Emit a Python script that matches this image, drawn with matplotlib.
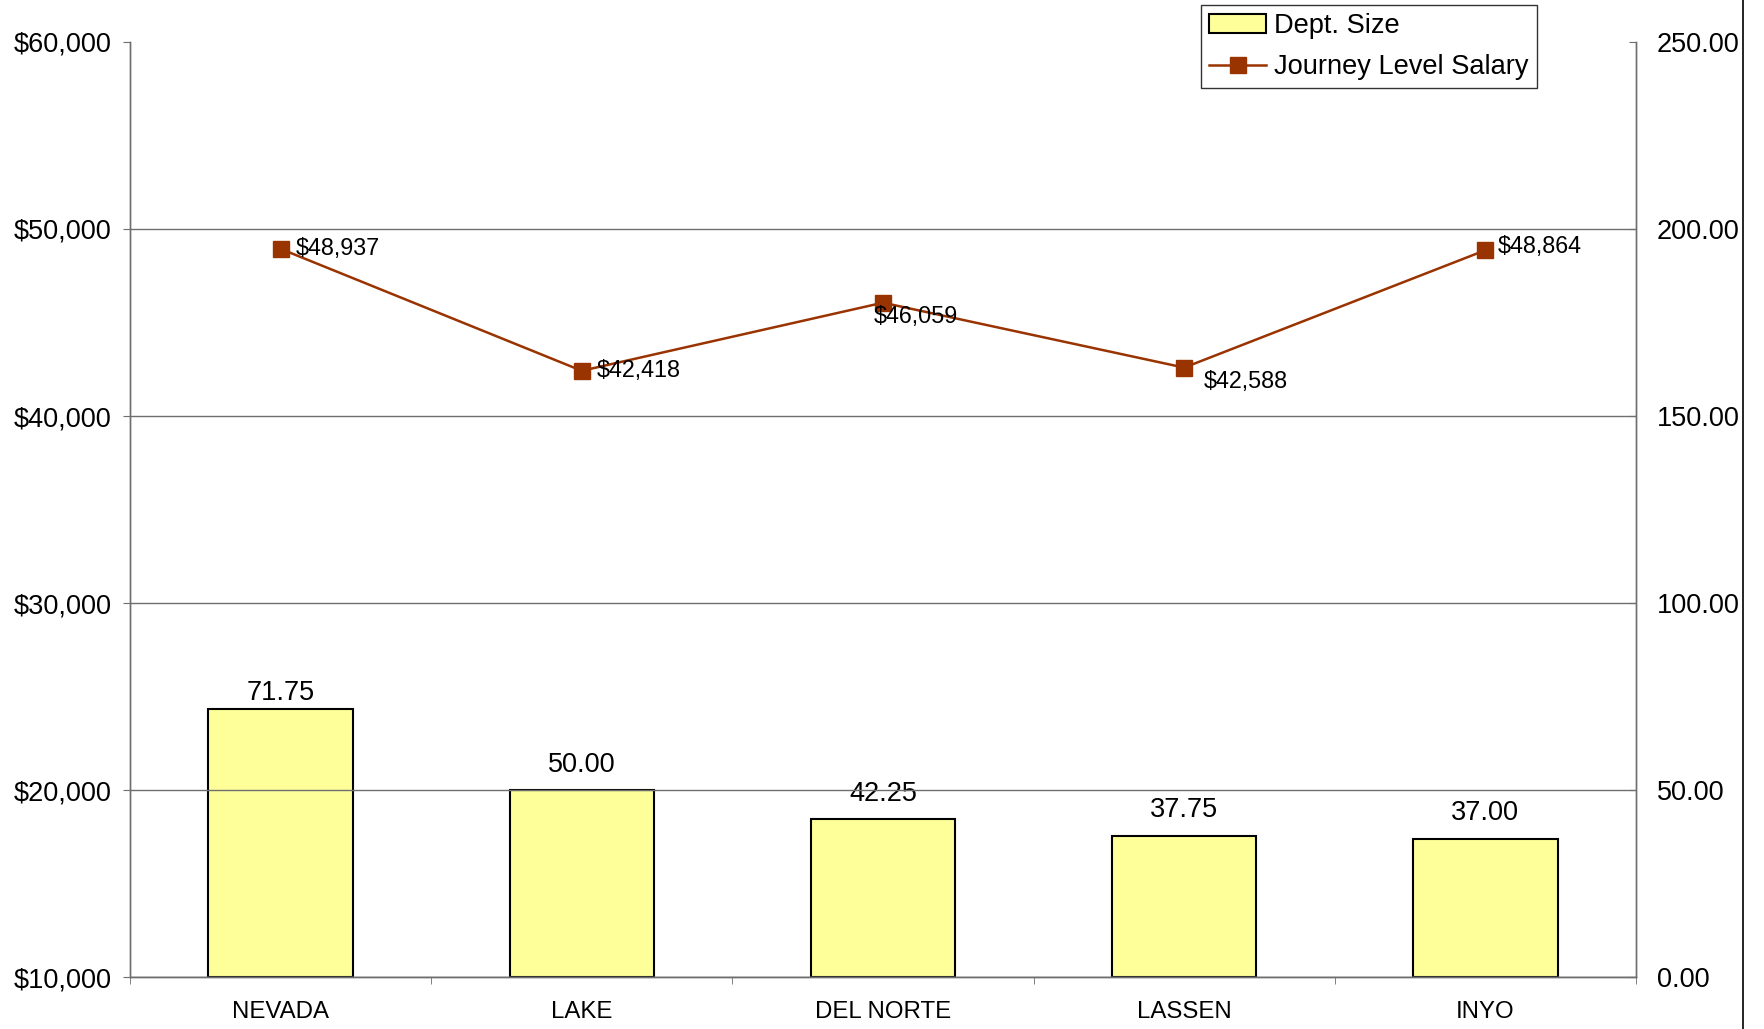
# Dept. size (bars) vs journey level salary (line), two y axes
import matplotlib.pyplot as plt
from matplotlib.lines import Line2D
from matplotlib.ticker import FuncFormatter

plt.rcParams['font.family'] = ['Liberation Sans', 'DejaVu Sans']

counties = ["NEVADA", "LAKE", "DEL NORTE", "LASSEN", "INYO"]
dept_size = [71.75, 50.00, 42.25, 37.75, 37.00]
salary = [48937, 42418, 46059, 42588, 48864]
# label offsets (points) for the salary and bar labels
salary_offsets = [(11, 0), (11, 0), (-7, -10), (14, -10), (9, 3)]
bar_offsets = [2, 9, 9, 9, 9]

left_ticks = [10000, 20000, 30000, 40000, 50000, 60000]
right_ticks = [0, 50, 100, 150, 200, 250]

line_color = "#993300"
bar_color = "#FFFF99"
axis_gray = "#6e6e6e"

fig = plt.figure(figsize=(17.64, 10.29), dpi=100)
ax = fig.add_axes([0.0737, 0.0505, 0.8537, 0.9087])
ax2 = ax.twinx()

x = list(range(len(counties)))

# bars belong to the right axis, line to the left; keep line on top
ax.set_zorder(2)
ax.patch.set_visible(False)
ax2.set_zorder(1)

bars = ax2.bar(x, dept_size, width=0.48, color=bar_color, edgecolor="black",
               linewidth=1.5, label="Dept. Size")
for xi, v, off in zip(x, dept_size, bar_offsets):
    ax2.annotate(f"{v:.2f}", (xi, v), xytext=(0, off), textcoords="offset points",
                 ha="center", va="bottom", fontsize=19.5)

line, = ax.plot(x, salary, color=line_color, linewidth=1.8, marker="s",
                markersize=11, label="Journey Level Salary")
for xi, v, off in zip(x, salary, salary_offsets):
    ax.annotate(f"${v:,}", (xi, v), xytext=off, textcoords="offset points",
                ha="left", va="center", fontsize=16.8)

ax.set_xlim(-0.5, len(counties) - 0.5)
ax.set_ylim(left_ticks[0], left_ticks[-1])
ax2.set_ylim(right_ticks[0], right_ticks[-1])

ax.set_yticks(left_ticks)
ax.yaxis.set_major_formatter(FuncFormatter(lambda v, p: f"${v:,.0f}"))
ax2.set_yticks(right_ticks)
ax2.yaxis.set_major_formatter(FuncFormatter(lambda v, p: f"{v:.2f}"))

ax.set_xticks(x)
ax.set_xticklabels(counties, fontsize=17.3)
ax.set_xticks([i - 0.5 for i in range(len(counties) + 1)], minor=True)
ax.tick_params(axis="x", which="major", length=0, pad=17)
ax.tick_params(axis="x", which="minor", length=5, direction="out", color=axis_gray)
ax.tick_params(axis="y", labelsize=19.5, length=5, direction="out", color=axis_gray, pad=8)
ax2.tick_params(axis="y", labelsize=19.5, length=5, direction="in", color=axis_gray, pad=15)

# gridlines everywhere except at the top
ax.yaxis.grid(True, color=axis_gray, linewidth=1)
ax.get_ygridlines()[-1].set_visible(False)
ax.set_axisbelow(True)

for a in (ax, ax2):
    a.spines["top"].set_visible(False)
    for s in ("left", "right", "bottom"):
        a.spines[s].set_color(axis_gray)
        a.spines[s].set_linewidth(1)

leg = fig.legend([bars, line], ["Dept. Size", "Journey Level Salary"],
                 loc="upper left", bbox_to_anchor=(1201 / 1764, 1 - 5 / 1029),
                 fontsize=19.6, frameon=True, fancybox=False, edgecolor="black",
                 borderpad=0.3, labelspacing=0.55, handlelength=2.1,
                 handletextpad=0.3, borderaxespad=0)
leg.get_frame().set_linewidth(1)

# black border line at the right edge of the picture
fig.add_artist(Line2D([1743 / 1764] * 2, [0, 1], transform=fig.transFigure,
                      color="black", linewidth=1.2))

fig.savefig("out.png", dpi=100, facecolor="white")
